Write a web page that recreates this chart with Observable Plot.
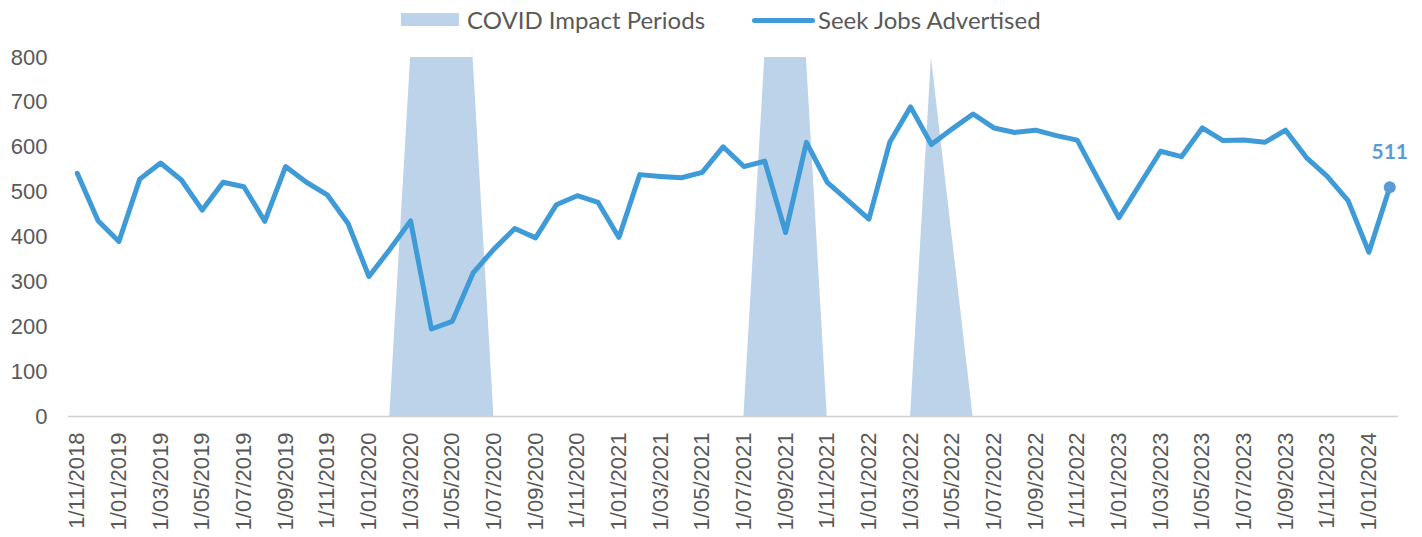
<!DOCTYPE html>
<html>
<head>
<meta charset="utf-8">
<script src="https://cdn.jsdelivr.net/npm/d3@7"></script>
<script src="https://cdn.jsdelivr.net/npm/@observablehq/plot@0.6"></script>
<style>
  body { margin: 0; background: #fff; }
  #wrap { position: relative; width: 1422px; height: 537px; overflow: hidden; }
  #legend { position: relative; height: 40px; font-family: Lato, "Open Sans", sans-serif; font-size: 24px; color: #595959; }
  .lg { position: absolute; white-space: nowrap; line-height: 1; }
</style>
</head>
<body>
<div id="wrap">
  <div id="legend"></div>
  <div id="chart"></div>
</div>
<script>
const months = [
  "1/11/2018","1/12/2018",
  "1/01/2019","1/02/2019","1/03/2019","1/04/2019","1/05/2019","1/06/2019","1/07/2019","1/08/2019","1/09/2019","1/10/2019","1/11/2019","1/12/2019",
  "1/01/2020","1/02/2020","1/03/2020","1/04/2020","1/05/2020","1/06/2020","1/07/2020","1/08/2020","1/09/2020","1/10/2020","1/11/2020","1/12/2020",
  "1/01/2021","1/02/2021","1/03/2021","1/04/2021","1/05/2021","1/06/2021","1/07/2021","1/08/2021","1/09/2021","1/10/2021","1/11/2021","1/12/2021",
  "1/01/2022","1/02/2022","1/03/2022","1/04/2022","1/05/2022","1/06/2022","1/07/2022","1/08/2022","1/09/2022","1/10/2022","1/11/2022","1/12/2022",
  "1/01/2023","1/02/2023","1/03/2023","1/04/2023","1/05/2023","1/06/2023","1/07/2023","1/08/2023","1/09/2023","1/10/2023","1/11/2023","1/12/2023",
  "1/01/2024","1/02/2024"
];
const seekJobs = [
  542, 436,
  390, 529, 565, 527, 460, 522, 512, 435, 557, 522, 494, 430,
  312, 372, 436, 195, 212, 320, 373, 419, 398, 472, 492, 477,
  399, 539, 535, 532, 544, 601, 557, 569, 410, 611, 522, 481,
  440, 611, 690, 606, 641, 674, 643, 633, 638, 626, 616, 529,
  443, 517, 591, 579, 643, 615, 616, 611, 638, 577, 535, 481,
  366, 511
];
const covidImpact = [
  0, 0,
  0, 0, 0, 0, 0, 0, 0, 0, 0, 0, 0, 0,
  0, 0, 800, 800, 800, 800, 0, 0, 0, 0, 0, 0,
  0, 0, 0, 0, 0, 0, 0, 800, 800, 800, 0, 0,
  0, 0, 0, 800, 400, 0, 0, 0, 0, 0, 0, 0,
  0, 0, 0, 0, 0, 0, 0, 0, 0, 0, 0, 0,
  0, 0
];
const yTicks = [0, 100, 200, 300, 400, 500, 600, 700, 800];
const xTickLabels = months.filter((d, i) => i % 2 === 0);
const seriesNames = ["COVID Impact Periods", "Seek Jobs Advertised"];

const lineColor = "#3e9bd8";
const areaColor = "#bdd3ea";
const labelColor = "#5b9bd5";

const data = months.map((m, i) => ({month: m, jobs: seekJobs[i], covid: covidImpact[i]}));
const last = data[data.length - 1];

// legend
const legend = document.getElementById("legend");
legend.innerHTML = `
  <div class="lg" style="left:401px;top:13px;width:58px;height:13px;background:${areaColor}"></div>
  <div class="lg" style="left:467px;top:8px;">${seriesNames[0]}</div>
  <div class="lg" style="left:752px;top:18px;width:63px;height:5px;border-radius:3px;background:${lineColor}"></div>
  <div class="lg" style="left:818px;top:8px;">${seriesNames[1]}</div>
`;

const chart = Plot.plot({
  width: 1422,
  height: 497,
  marginLeft: 68,
  marginRight: 24,
  marginTop: 17,
  marginBottom: 121,
  style: {fontFamily: "'Liberation Sans', Arial, sans-serif", color: "#595959", background: "#fff"},
  x: {type: "point", domain: months, padding: 0.42, label: null},
  y: {domain: [0, 800], label: null},
  marks: [
    Plot.areaY(data, {x: "month", y: "covid", fill: areaColor, curve: "linear"}),
    Plot.ruleY([0], {stroke: "#d0d0d0", strokeWidth: 1.5}),
    Plot.lineY(data, {x: "month", y: "jobs", stroke: lineColor, strokeWidth: 5, strokeLinejoin: "round", strokeLinecap: "round"}),
    Plot.dot([last], {x: "month", y: "jobs", r: 6, fill: labelColor}),
    Plot.text([last], {x: "month", y: "jobs", text: d => String(d.jobs), dy: -35, fill: labelColor, fontWeight: "bold", fontSize: 21, fontFamily: "Lato, 'Open Sans', sans-serif"}),
    Plot.axisY({ticks: yTicks, tickSize: 0, tickPadding: 21, fontSize: 22, label: null}),
    Plot.axisX({ticks: xTickLabels, tickSize: 0, tickPadding: 16, tickRotate: -90, fontSize: 22, label: null})
  ]
});
document.getElementById("chart").appendChild(chart);
</script>
</body>
</html>
